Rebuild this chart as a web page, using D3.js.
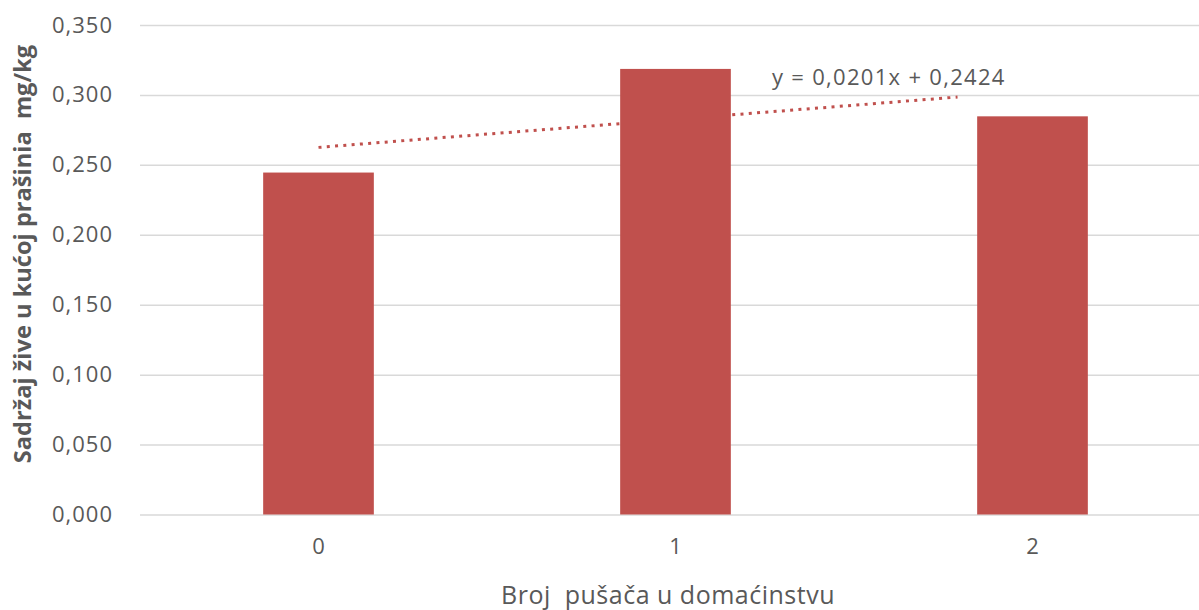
<!DOCTYPE html>
<html>
<head>
<meta charset="utf-8">
<script src="https://cdn.jsdelivr.net/npm/d3@7"></script>
<style>
  body { margin: 0; background: #fff; }
  text { font-family: "Open Sans", sans-serif; }
</style>
</head>
<body>
<div id="chart"></div>
<script>
const CATEGORIES = ['0', '1', '2'];
const VALUES = [0.2445, 0.3186, 0.2847];
const Y_TICKS = [0, 0.05, 0.10, 0.15, 0.20, 0.25, 0.30, 0.35];
const TREND_SLOPE = 0.0201;
const TREND_INTERCEPT = 0.2424;
const TREND_RANGE = [1, 2.79];
const TREND_LABEL = "y = 0,0201x + 0,2424";
const X_TITLE = "Broj  pušača u domaćinstvu";
const Y_TITLE = "Sadržaj žive u kućoj prašinia  mg/kg";
const BAR_COLOUR = "#C0504D";
const TEXT_COLOUR = "#595959";

var width = 1199, height = 610;
var svg = d3.select("#chart")
  .append("svg")
    .attr("width", width)
    .attr("height", height);

// scales
var x = d3.scaleBand()
  .domain(CATEGORIES)
  .range([140, 1211])
  .paddingInner(0.69)
  .paddingOuter(0.345);
var y = d3.scaleLinear()
  .domain([0, 0.35])
  .range([514.5, 25]);

// gridlines + y labels
var fmt = function(d) { return d3.format(".3f")(d).replace(".", ","); };
var yAxis = svg.append("g")
  .attr("transform", "translate(140,0)")
  .call(d3.axisLeft(y).tickValues(Y_TICKS).tickSize(-1071).tickPadding(27).tickFormat(fmt));
yAxis.select(".domain").remove();
yAxis.selectAll("line")
  .attr("stroke", "#D9D9D9")
  .attr("stroke-width", 1.5);
yAxis.selectAll("text")
  .attr("fill", TEXT_COLOUR)
  .attr("font-size", "22px")
  .attr("letter-spacing", "1px")
  .attr("font-family", "Open Sans");

// trendline (behind bars)
var xc = function(i) { return x(CATEGORIES[0]) + x.bandwidth() / 2 + (i - 1) * x.step(); };
svg.append("line")
  .attr("x1", xc(TREND_RANGE[0]))
  .attr("y1", y(TREND_SLOPE * TREND_RANGE[0] + TREND_INTERCEPT))
  .attr("x2", xc(TREND_RANGE[1]))
  .attr("y2", y(TREND_SLOPE * TREND_RANGE[1] + TREND_INTERCEPT))
  .attr("stroke", BAR_COLOUR)
  .attr("stroke-width", 3)
  .attr("stroke-dasharray", "3,5.3");

// bars
svg.append("g")
  .selectAll("rect")
  .data(VALUES)
  .enter()
  .append("rect")
    .attr("x", function(d, i) { return x(CATEGORIES[i]); })
    .attr("y", function(d) { return y(d); })
    .attr("width", x.bandwidth())
    .attr("height", function(d) { return y(0) - y(d); })
    .attr("fill", BAR_COLOUR);

// x labels
var xAxis = svg.append("g")
  .attr("transform", "translate(0," + y(0) + ")")
  .call(d3.axisBottom(x).tickSize(0).tickPadding(24));
xAxis.select(".domain").remove();
xAxis.selectAll("text")
  .attr("fill", TEXT_COLOUR)
  .attr("font-size", "22px")
  .attr("font-family", "Open Sans");

// trend label
svg.append("text")
  .attr("x", 772)
  .attr("y", 85)
  .attr("fill", TEXT_COLOUR)
  .attr("font-size", "22px")
  .attr("letter-spacing", "1.3px")
  .text(TREND_LABEL);

// axis titles
svg.append("text")
  .attr("x", 668)
  .attr("y", 604)
  .attr("text-anchor", "middle")
  .attr("fill", TEXT_COLOUR)
  .attr("font-size", "25px")
  .attr("letter-spacing", "0.5px")
  .style("white-space", "pre")
  .text(X_TITLE);
svg.append("text")
  .attr("transform", "translate(31,254) rotate(-90)")
  .attr("text-anchor", "middle")
  .attr("fill", TEXT_COLOUR)
  .attr("font-size", "23.6px")
  .attr("font-weight", "bold")
  .style("white-space", "pre")
  .text(Y_TITLE);
</script>
</body>
</html>
